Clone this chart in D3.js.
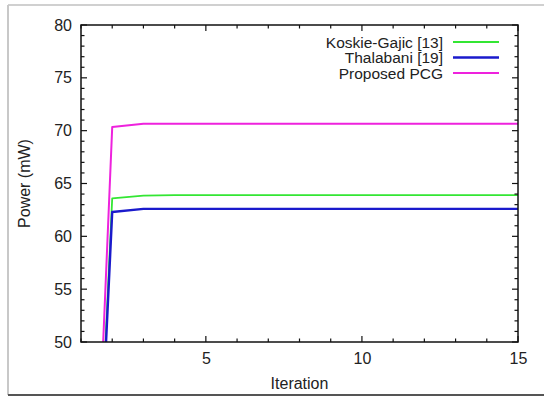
<!DOCTYPE html>
<html>
<head>
<meta charset="utf-8">
<script src="https://cdnjs.cloudflare.com/ajax/libs/d3/7.8.5/d3.min.js"></script>
<style>
  body { margin: 0; background: #fff; }
  svg text { font-family: "Liberation Sans", Arial, sans-serif; fill: #222; }
</style>
</head>
<body>
<div id="chart"></div>
<script>
// data
const iterations = [1, 2, 3, 4, 5, 6, 7, 8, 9, 10, 11, 12, 13, 14, 15];
const koskieGajic = [0, 63.6, 63.85, 63.9, 63.9, 63.9, 63.9, 63.9, 63.9, 63.9, 63.9, 63.9, 63.9, 63.9, 63.9];
const thalabani = [0, 62.3, 62.6, 62.6, 62.6, 62.6, 62.6, 62.6, 62.6, 62.6, 62.6, 62.6, 62.6, 62.6, 62.6];
const proposedPCG = [0, 70.35, 70.65, 70.65, 70.65, 70.65, 70.65, 70.65, 70.65, 70.65, 70.65, 70.65, 70.65, 70.65, 70.65];
const xTicks = [5, 10, 15];
const yTicks = [50, 55, 60, 65, 70, 75, 80];

const series = [
  { name: 'Koskie-Gajic [13]', values: koskieGajic, color: '#33e633', width: 1.8 },
  { name: 'Thalabani [19]', values: thalabani, color: '#1a1acc', width: 2.4 },
  { name: 'Proposed PCG', values: proposedPCG, color: '#ee22dd', width: 2 }
];

const W = 544, H = 397;
const margin = { top: 25, right: 26, bottom: 55, left: 81 };
const iw = W - margin.left - margin.right;
const ih = H - margin.top - margin.bottom;
const FONT = 16;

const svg = d3.select('#chart').append('svg')
  .attr('width', W)
  .attr('height', H);

// outer frame of the figure
svg.append('line').attr('x1', 8).attr('y1', 5).attr('x2', W).attr('y2', 5)
  .attr('stroke', '#d0d0d0').attr('stroke-width', 2);
svg.append('line').attr('x1', 8).attr('y1', 5).attr('x2', 8).attr('y2', 395)
  .attr('stroke', '#c8c8c8').attr('stroke-width', 2);
svg.append('line').attr('x1', 8).attr('y1', 395).attr('x2', W).attr('y2', 395)
  .attr('stroke', '#555').attr('stroke-width', 2);

const x = d3.scaleLinear().domain([1, 15]).range([0, iw]);
const y = d3.scaleLinear().domain([50, 80]).range([ih, 0]);

const g = svg.append('g').attr('transform', `translate(${margin.left},${margin.top})`);

g.append('defs').append('clipPath').attr('id', 'clip')
  .append('rect').attr('width', iw).attr('height', ih);

// lines
const line = d3.line()
  .x((d, i) => x(iterations[i]))
  .y(d => y(d));

const lines = g.append('g').attr('clip-path', 'url(#clip)');
series.forEach(s => {
  lines.append('path')
    .datum(s.values)
    .attr('fill', 'none')
    .attr('stroke', s.color)
    .attr('stroke-width', s.width)
    .attr('stroke-linejoin', 'round')
    .attr('d', line);
});

// inward ticks on all four sides (gnuplot style)
const xMinor = d3.range(1, 16);
const yMinor = d3.range(50, 81);
const tickG = g.append('g').attr('stroke', '#111').attr('stroke-width', 1.2);

xMinor.forEach(v => {
  const len = xTicks.includes(v) ? 6 : 3.5;
  tickG.append('line').attr('x1', x(v)).attr('x2', x(v)).attr('y1', ih).attr('y2', ih - len);
  tickG.append('line').attr('x1', x(v)).attr('x2', x(v)).attr('y1', 0).attr('y2', len);
});
yMinor.forEach(v => {
  const len = yTicks.includes(v) ? 6 : 3.5;
  tickG.append('line').attr('x1', 0).attr('x2', len).attr('y1', y(v)).attr('y2', y(v));
  tickG.append('line').attr('x1', iw).attr('x2', iw - len).attr('y1', y(v)).attr('y2', y(v));
});

// axis frame
g.append('rect')
  .attr('width', iw).attr('height', ih)
  .attr('fill', 'none').attr('stroke', '#111').attr('stroke-width', 1.5);

// tick labels via axes
const xAxis = g.append('g').attr('transform', `translate(0,${ih})`)
  .call(d3.axisBottom(x).tickValues(xTicks).tickSize(0).tickPadding(11).tickFormat(d3.format('d')));
const yAxis = g.append('g')
  .call(d3.axisLeft(y).tickValues(yTicks).tickSize(0).tickPadding(9).tickFormat(d3.format('d')));
[xAxis, yAxis].forEach(a => {
  a.select('.domain').remove();
  a.selectAll('text').attr('font-size', FONT).attr('font-family', '"Liberation Sans", Arial, sans-serif').attr('fill', '#222');
});

// axis titles
svg.append('text')
  .attr('x', margin.left + iw / 2).attr('y', 389)
  .attr('text-anchor', 'middle').attr('font-size', FONT)
  .text('Iteration');
svg.append('text')
  .attr('transform', `translate(30,${margin.top + ih / 2}) rotate(-90)`)
  .attr('text-anchor', 'middle').attr('font-size', FONT)
  .text('Power (mW)');

// legend
const legend = g.append('g').attr('transform', `translate(${iw - 75},${17})`);
series.forEach((s, i) => {
  const row = legend.append('g').attr('transform', `translate(0,${i * 15.5})`);
  row.append('text')
    .attr('x', 0).attr('y', 5.5)
    .attr('text-anchor', 'end').attr('font-size', 15.5)
    .text(s.name);
  row.append('line')
    .attr('x1', 10).attr('x2', 56)
    .attr('y1', 0).attr('y2', 0)
    .attr('stroke', s.color).attr('stroke-width', s.width);
});
</script>
</body>
</html>
